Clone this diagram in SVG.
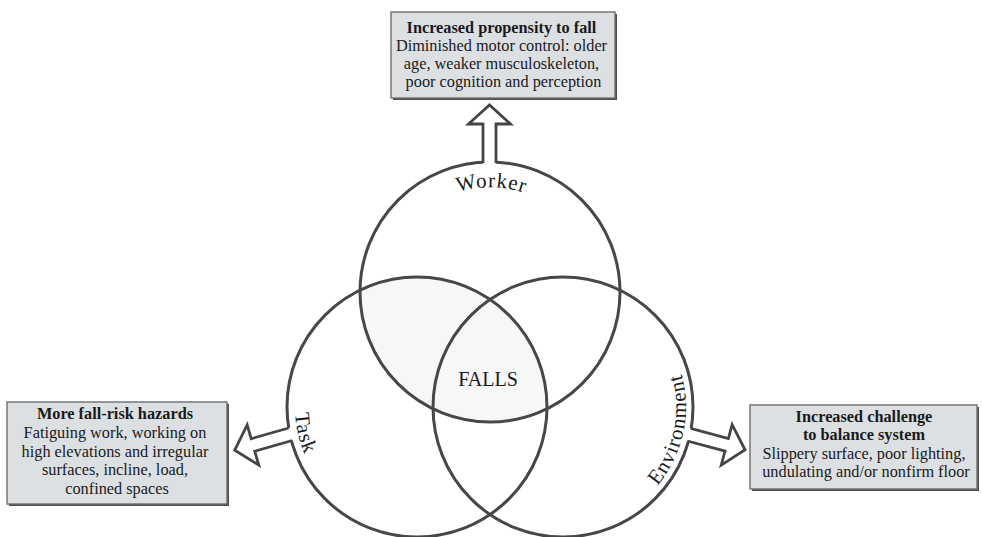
<svg xmlns="http://www.w3.org/2000/svg" xmlns:xlink="http://www.w3.org/1999/xlink" width="982" height="537" viewBox="0 0 982 537">
  <style>
    .ring { fill: none; stroke: #474747; stroke-width: 3; }
    .label { font-family: "Liberation Serif", "Times New Roman", serif; font-size: 21px; fill: #1a1a1a; letter-spacing: 0.9px; }
    .center { font-family: "Liberation Serif", "Times New Roman", serif; font-size: 20px; fill: #1a1a1a; text-anchor: middle; }
    .box { fill: #dde0e3; stroke: #6e6e6e; stroke-width: 1.4; }
    .box-shadow { fill: #4d4d4d; }
    .box-text { font-family: "Liberation Serif", "Times New Roman", serif; font-size: 16.3px; fill: #1a1a1a; text-anchor: middle; }
    .box-text .title { font-weight: bold; }
    .arrow-fill { fill: #ffffff; stroke: none; }
    .arrow-line { fill: none; stroke: #454545; stroke-width: 2.8; stroke-linejoin: miter; }
  </style>
  <defs>
    <clipPath id="clipWorker">
      <circle cx="490" cy="292" r="130"/>
    </clipPath>
    <!-- hollow block arrow, base at origin, pointing along +x -->
    <g id="blockArrow">
      <path class="arrow-fill" d="M-4,-6.5 L38,-6.5 L38,-21 L57,0 L38,21 L38,6.5 L-4,6.5 Z"/>
      <path class="arrow-line" d="M-1,-6.5 L38,-6.5 L38,-21 L57,0 L38,21 L38,6.5 L-1,6.5"/>
    </g>
    <!-- baselines for the curved circle labels -->
    <path id="workerArc" d="M422.5,211.6 A106,106 0 0 1 557.5,211.6"/>
    <path id="taskArc" d="M311.3,346 A122,122 0 0 0 348.8,508.1"/>
    <path id="envArc" d="M633.6,507.7 A123,123 0 0 0 668.4,343.7"/>
  </defs>

  <rect width="982" height="537" fill="#ffffff"/>

  <!-- faint tint where Worker and Task overlap -->
  <circle cx="417" cy="407" r="130" fill="#f6f8f8" clip-path="url(#clipWorker)"/>

  <g id="worker">
    <circle class="ring" cx="490" cy="292" r="130"/>
  </g>
  <g id="task">
    <circle class="ring" cx="417" cy="407" r="130"/>
  </g>
  <g id="environment">
    <circle class="ring" cx="563" cy="407" r="130"/>
  </g>

  <g id="connectors">
    <use xlink:href="#blockArrow" transform="translate(489.5,162) rotate(-90)"/>
    <use xlink:href="#blockArrow" transform="translate(289.5,434.5) rotate(164)"/>
    <use xlink:href="#blockArrow" transform="translate(690,435) rotate(15)"/>
  </g>

  <g id="circle-labels">
    <text class="label"><textPath xlink:href="#workerArc" startOffset="51%" text-anchor="middle">Worker</textPath></text>
    <text class="label"><textPath xlink:href="#taskArc" startOffset="50%" text-anchor="middle">Task</textPath></text>
    <text class="label"><textPath xlink:href="#envArc" startOffset="50%" text-anchor="middle">Environment</textPath></text>
  </g>

  <g id="falls">
    <text class="center" x="488" y="386">FALLS</text>
  </g>

  <g id="box-worker">
    <rect class="box-shadow" x="393" y="14" width="224" height="86"/>
    <rect class="box" x="391" y="12" width="224" height="86"/>
    <text class="box-text" x="503.5">
      <tspan class="title" x="503.5" y="32.5">Increased propensity to fall</tspan>
      <tspan x="503.5" y="50.5">Diminished motor control: older</tspan>
      <tspan x="503.5" y="68.5">age, weaker musculoskeleton,</tspan>
      <tspan x="503.5" y="86.5">poor cognition and perception</tspan>
    </text>
  </g>

  <g id="box-task">
    <rect class="box-shadow" x="9" y="404" width="220" height="102"/>
    <rect class="box" x="7" y="402" width="220" height="102"/>
    <text class="box-text" x="117">
      <tspan class="title" x="117" y="419">More fall-risk hazards</tspan>
      <tspan x="117" y="438">Fatiguing work, working on</tspan>
      <tspan x="117" y="456.5">high elevations and irregular</tspan>
      <tspan x="117" y="475">surfaces, incline, load,</tspan>
      <tspan x="117" y="493.5">confined spaces</tspan>
    </text>
  </g>

  <g id="box-environment">
    <rect class="box-shadow" x="752" y="407" width="227" height="84"/>
    <rect class="box" x="750" y="405" width="227" height="84"/>
    <text class="box-text" x="866">
      <tspan class="title" x="866" y="421.5">Increased challenge</tspan>
      <tspan class="title" x="866" y="440">to balance system</tspan>
      <tspan x="866" y="458.5">Slippery surface, poor lighting,</tspan>
      <tspan x="866" y="476.5">undulating and/or nonfirm floor</tspan>
    </text>
  </g>
</svg>
